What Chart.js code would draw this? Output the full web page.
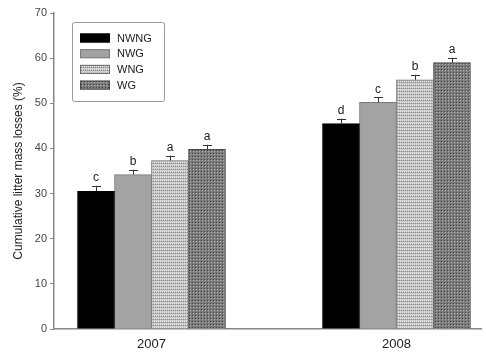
<!DOCTYPE html>
<html>
<head>
<meta charset="utf-8">
<script src="https://cdn.jsdelivr.net/npm/chart.js@4.4.0/dist/chart.umd.min.js"></script>
<style>
  html, body { margin: 0; padding: 0; background: #fff; }
  #wrap { width: 486px; height: 355px; position: relative; }
</style>
</head>
<body>
<div id="wrap"><canvas id="chart"></canvas></div>
<script>
// data
const years = ['2007', '2008'];
const treatments = ['NWNG', 'NWG', 'WNG', 'WG'];
const nwng = [30.5, 45.5];
const nwg = [34.2, 50.2];
const wng = [37.3, 55.2];
const wg = [39.8, 59.0];
const nwngErr = [1.2, 1.1];
const nwgErr = [1.1, 1.1];
const wngErr = [1.1, 1.1];
const wgErr = [1.0, 1.1];
const nwngLetters = ['c', 'd'];
const nwgLetters = ['b', 'c'];
const wngLetters = ['a', 'b'];
const wgLetters = ['a', 'a'];

// fill patterns
function makePattern(type) {
    const c = document.createElement('canvas');
    const g = c.getContext('2d');
    if (type === 'wng') {
        c.width = 4; c.height = 3;
        g.fillStyle = '#b9b9b9'; g.fillRect(0, 0, 4, 3);
        g.fillStyle = '#e6e6e6'; g.fillRect(0, 0, 1, 1); g.fillRect(2, 0, 1, 1);
        g.fillStyle = '#8c8c8c'; g.fillRect(1, 1, 1, 1); g.fillRect(3, 1, 1, 1);
        g.fillStyle = '#d2d2d2'; g.fillRect(0, 2, 4, 1);
    } else {
        c.width = 3; c.height = 3;
        g.fillStyle = '#7c7c7c'; g.fillRect(0, 0, 3, 3);
        g.fillStyle = '#b0b0b0'; g.fillRect(1, 1, 1, 1);
        g.fillStyle = '#404040'; g.fillRect(0, 0, 1, 1);
    }
    return g.createPattern(c, 'repeat');
}

const series = [
    { label: treatments[0], vals: nwng, err: nwngErr, letters: nwngLetters, fill: '#000000', border: '#000000' },
    { label: treatments[1], vals: nwg, err: nwgErr, letters: nwgLetters, fill: '#a3a3a3', border: '#7a7a7a' },
    { label: treatments[2], vals: wng, err: wngErr, letters: wngLetters, fill: makePattern('wng'), border: '#6a6a6a' },
    { label: treatments[3], vals: wg, err: wgErr, letters: wgLetters, fill: makePattern('wg'), border: '#4a4a4a' }
];

// error bars + significance letters
const errorBars = {
    id: 'errorBars',
    afterDatasetsDraw(chart) {
        const ctx = chart.ctx;
        const y = chart.scales.y;
        ctx.save();
        chart.data.datasets.forEach((ds, i) => {
            const meta = chart.getDatasetMeta(i);
            meta.data.forEach((bar, j) => {
                const top = y.getPixelForValue(ds.data[j].y + ds.err[j]);
                ctx.strokeStyle = '#333';
                ctx.lineWidth = 1;
                ctx.beginPath();
                ctx.moveTo(Math.round(bar.x) + 0.5, bar.y);
                ctx.lineTo(Math.round(bar.x) + 0.5, top);
                ctx.moveTo(Math.round(bar.x) - 4, Math.round(top) + 0.5);
                ctx.lineTo(Math.round(bar.x) + 5, Math.round(top) + 0.5);
                ctx.stroke();
                ctx.fillStyle = '#222';
                ctx.font = '12px "Liberation Sans", Arial, sans-serif';
                ctx.textAlign = 'center';
                ctx.textBaseline = 'bottom';
                ctx.fillText(ds.letters[j], bar.x, top - 2);
            });
        });
        ctx.restore();
    }
};

// legend box drawn inside the plot
const boxLegend = {
    id: 'boxLegend',
    afterDraw(chart) {
        const ctx = chart.ctx;
        ctx.save();
        ctx.strokeStyle = '#999';
        ctx.lineWidth = 1;
        ctx.beginPath();
        ctx.roundRect(72.5, 22.5, 92, 79, 2);
        ctx.stroke();
        chart.data.datasets.forEach((ds, i) => {
            const cy = 38 + i * 15.7;
            ctx.fillStyle = ds.backgroundColor;
            ctx.fillRect(80, cy - 4.5, 30, 9);
            ctx.strokeStyle = ds.borderColor;
            ctx.strokeRect(80.5, cy - 4, 29, 8);
            ctx.fillStyle = '#222';
            ctx.font = '11px "Liberation Sans", Arial, sans-serif';
            ctx.textAlign = 'left';
            ctx.textBaseline = 'middle';
            ctx.fillText(ds.label, 117, cy + 0.5);
        });
        ctx.restore();
    }
};

new Chart(document.getElementById('chart'), {
    type: 'bar',
    data: {
        datasets: series.map(s => ({
            label: s.label,
            data: s.vals.map((v, k) => ({ x: k + 1, y: v })),
            err: s.err,
            letters: s.letters,
            backgroundColor: s.fill,
            borderColor: s.border,
            borderWidth: 1,
            barThickness: 37
        }))
    },
    options: {
        responsive: true,
        maintainAspectRatio: false,
        animation: false,
        layout: { padding: { top: 13, right: 5, left: 0, bottom: 0 } },
        plugins: { legend: { display: false }, tooltip: { enabled: false } },
        scales: {
            x: {
                type: 'linear',
                offset: false,
                min: 0.602,
                max: 2.345,
                afterBuildTicks: s => { s.ticks = years.map((_, k) => ({ value: k + 1 })); },
                afterFit: s => { s.height = 26; },
                grid: { display: false, offset: false },
                border: { display: true, color: '#888', width: 1.5 },
                ticks: {
                    callback: v => years[v - 1] || '',
                    color: '#222',
                    padding: 0,
                    maxRotation: 0,
                    font: { family: '"Liberation Sans", Arial, sans-serif', size: 13 }
                }
            },
            y: {
                min: 0,
                max: 70,
                afterFit: s => { s.width = 54; },
                grid: { drawOnChartArea: false, drawTicks: true, tickLength: 4, color: '#888' },
                border: { display: true, color: '#888', width: 1.5 },
                ticks: {
                    stepSize: 10,
                    color: '#444',
                    padding: 3,
                    font: { family: '"Liberation Sans", Arial, sans-serif', size: 11 }
                },
                title: {
                    display: true,
                    text: 'Cumulative litter mass losses (%)',
                    color: '#222',
                    padding: { top: 11, bottom: 0 },
                    font: { family: '"Liberation Sans", Arial, sans-serif', size: 12 }
                }
            }
        }
    },
    plugins: [errorBars, boxLegend]
});
</script>
</body>
</html>
